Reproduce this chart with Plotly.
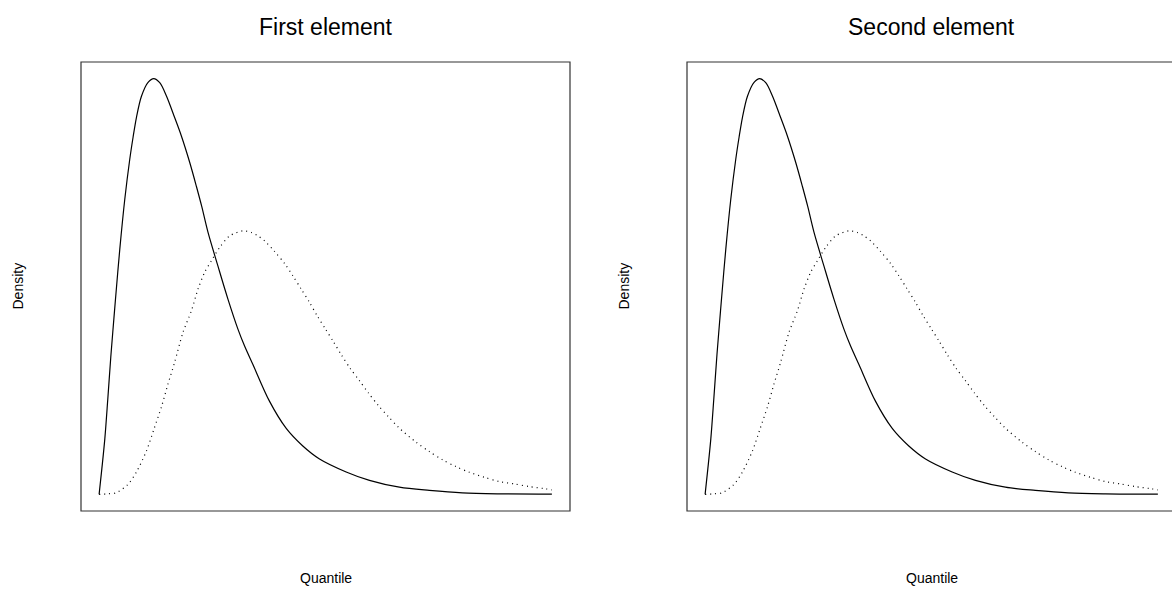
import plotly.graph_objects as go

# ---- data (quantile, density) ----
solid_x = [0.000, 0.060, 0.126, 0.192, 0.258, 0.302, 0.362, 0.457, 0.567, 0.677,
           0.750, 0.825, 0.935, 1.081, 1.206, 1.339, 1.487, 1.670, 1.817, 2.000,
           2.148, 2.265, 2.404, 2.625, 2.845, 3.066, 3.213, 3.397, 3.765, 4.133,
           4.499, 4.868, 5.457, 5.971, 6.632, 7.294, 8.022, 8.838, 10.000]
solid_y = [0.0000, 0.0245, 0.0534, 0.0918, 0.1322, 0.1563, 0.1880, 0.2361, 0.2841, 0.3226,
           0.3438, 0.3630, 0.3832, 0.3966, 0.4002, 0.3963, 0.3835, 0.3625, 0.3450, 0.3197,
           0.2966, 0.2774, 0.2524, 0.2197, 0.1880, 0.1591, 0.1428, 0.1250, 0.0895, 0.0635,
           0.0466, 0.0341, 0.0216, 0.0135, 0.0069, 0.0038, 0.0014, 0.0005, 0.0002]

dot_x = [0.000, 0.185, 0.368, 0.626, 0.825, 1.045, 1.213, 1.376, 1.522, 1.670,
         1.853, 2.038, 2.184, 2.331, 2.479, 2.662, 2.883, 3.176, 3.361, 3.507,
         3.655, 3.875, 4.096, 4.279, 4.464, 4.647, 4.817, 5.000, 5.176, 5.353,
         5.545, 5.750, 5.948, 6.169, 6.389, 6.610, 7.000, 7.294, 7.587, 7.883,
         8.176, 8.507, 8.838, 9.169, 9.499, 9.868, 10.000]
dot_y = [0.0000, 0.0005, 0.0014, 0.0091, 0.0216, 0.0418, 0.0630, 0.0841, 0.1063, 0.1274,
         0.1560, 0.1767, 0.1976, 0.2137, 0.2248, 0.2377, 0.2488, 0.2537, 0.2521, 0.2488,
         0.2440, 0.2338, 0.2223, 0.2104, 0.1976, 0.1848, 0.1719, 0.1591, 0.1469, 0.1341,
         0.1213, 0.1094, 0.0976, 0.0854, 0.0748, 0.0646, 0.0502, 0.0412, 0.0332, 0.0267,
         0.0213, 0.0165, 0.0123, 0.0101, 0.0075, 0.0053, 0.0043]

titles = ["First element", "Second element"]
xlabel = "Quantile"
ylabel = "Density"

# ---- layout geometry (window pixels) ----
W, H = 1172, 596
box_top, box_bot = 62, 511
panels = [(81, 570), (687, 1176)]
FONT = "Liberation Sans, Arial, sans-serif"

xmin, xmax = min(solid_x + dot_x), max(solid_x + dot_x)
ymin, ymax = 0.0, max(solid_y + dot_y)
xpad = 0.04 * (xmax - xmin)
ypad = 0.04 * (ymax - ymin)
xr0, xr1 = xmin - xpad, xmax + xpad
per_px = (xr1 - xr0) / (panels[0][1] - panels[0][0])

fig = go.Figure()
layout = dict(width=W, height=H, margin=dict(l=0, r=0, t=0, b=0),
              paper_bgcolor="white", plot_bgcolor="white", showlegend=False,
              font=dict(family=FONT, color="black"))
shapes, annotations = [], []

for i, (L, R) in enumerate(panels):
    sfx = "" if i == 0 else str(i + 1)
    Rv = min(R, W)
    dom = [L / W, Rv / W]
    rng = [xr0, xr0 + (Rv - L) * per_px]
    common = dict(showgrid=False, zeroline=False, showticklabels=False,
                  ticks="", showline=False)
    layout["xaxis" + sfx] = dict(domain=dom, range=rng, anchor="y" + sfx, **common)
    layout["yaxis" + sfx] = dict(domain=[1 - box_bot / H, 1 - box_top / H],
                                 range=[ymin - ypad, ymax + ypad], anchor="x" + sfx, **common)
    fig.add_trace(go.Scatter(x=solid_x, y=solid_y, mode="lines", xaxis="x" + sfx, yaxis="y" + sfx,
                             line=dict(color="black", width=1.2, shape="spline", smoothing=0.9)))
    fig.add_trace(go.Scatter(x=dot_x, y=dot_y, mode="lines", xaxis="x" + sfx, yaxis="y" + sfx,
                             line=dict(color="black", width=1.2, dash="1px,4px",
                                       shape="spline", smoothing=0.8)))
    shapes.append(dict(type="rect", xref="x" + sfx + " domain", yref="y" + sfx + " domain",
                       x0=0, x1=(R - L) / (Rv - L), y0=0, y1=1,
                       line=dict(color="#333333", width=1.2)))
    cx = (L + R) / 2 / W
    annotations.append(dict(text=titles[i], x=cx, y=1 - 27 / H, xref="paper", yref="paper",
                            showarrow=False, xanchor="center", yanchor="middle",
                            font=dict(size=23, family=FONT)))
    annotations.append(dict(text=xlabel, x=cx, y=1 - 578 / H, xref="paper", yref="paper",
                            showarrow=False, xanchor="center", yanchor="middle",
                            font=dict(size=14, family=FONT)))
    annotations.append(dict(text=ylabel, x=(L - 64) / W, y=1 - 286.5 / H, xref="paper",
                            yref="paper", showarrow=False, textangle=-90,
                            xanchor="center", yanchor="middle",
                            font=dict(size=14, family=FONT)))

layout["shapes"] = shapes
layout["annotations"] = annotations
fig.update_layout(**layout)
fig.write_html(
    "out.html",
    config={"displayModeBar": False},
    post_script="document.body.style.margin='0';document.body.style.overflow='hidden';"
                "document.documentElement.style.overflow='hidden';",
)
